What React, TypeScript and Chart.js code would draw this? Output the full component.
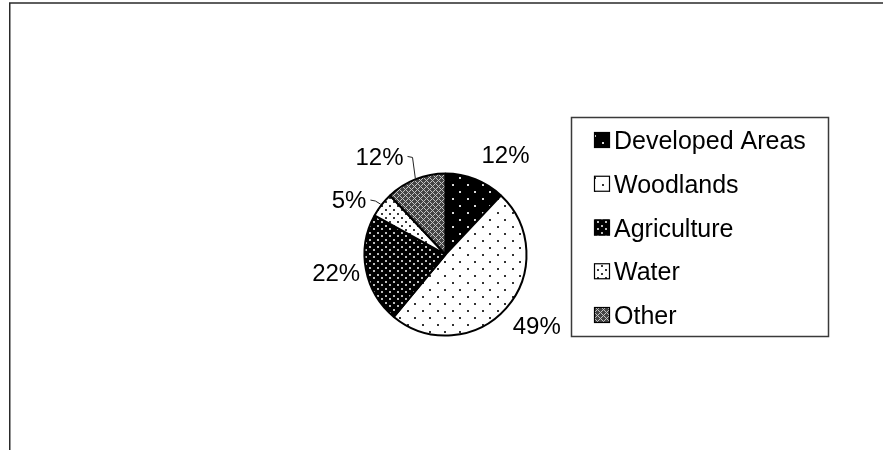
import React, { useEffect, useRef } from 'react';
import { Chart, registerables } from 'chart.js';

Chart.register(...registerables);

// ---- data ----
const categories = ['Developed Areas', 'Woodlands', 'Agriculture', 'Water', 'Other'];
const shares = [12, 49, 22, 5, 12];

// ---- style / layout constants (not data) ----
const LABEL_FONT = '24px "Liberation Sans", Arial, sans-serif';
const LEGEND_FONT = '25px "Liberation Sans", Arial, sans-serif';
const LABEL_GAP = 14;
const LABEL_NUDGE: [number, number][] = [[1, 0], [-4, 3], [8, 0], [-4, 12], [-7, 2]];
const LEADER_FOR = ['Water', 'Other'];
const LEGEND_BOX = { left: 571.5, top: 117.5, right: 828.5, bottom: 336.5 };
const LEGEND_ROW0 = 140;
const LEGEND_ROW_STEP = 43.75;

type Dot = [number, number];

function dotPattern(w: number, h: number, bg: string, fg: string, dots: Dot[], size: number) {
  const c = document.createElement('canvas');
  c.width = w;
  c.height = h;
  const g = c.getContext('2d')!;
  g.fillStyle = bg;
  g.fillRect(0, 0, w, h);
  g.fillStyle = fg;
  dots.forEach(([x, y]) => g.fillRect(x, y, size, size));
  return g.createPattern(c, 'repeat')!;
}

function crossPattern() {
  const n = 6;
  const c = document.createElement('canvas');
  c.width = n;
  c.height = n;
  const g = c.getContext('2d')!;
  g.fillStyle = '#444444';
  g.fillRect(0, 0, n, n);
  g.fillStyle = '#c4c4c4';
  for (let x = 0; x < n; x++) {
    for (let y = 0; y < n; y++) {
      if ((x + y) % n === 0 || (x - y + n) % n === 0) g.fillRect(x, y, 1, 1);
    }
  }
  return g.createPattern(c, 'repeat')!;
}

function makeFills() {
  return [
    dotPattern(15, 14, '#000000', '#d8d8d8', [[2, 2], [9, 9]], 2),
    dotPattern(15, 14, '#ffffff', '#333333', [[2, 2], [9, 9]], 2),
    dotPattern(8, 7, '#000000', '#bdbdbd', [[1, 1], [5, 4]], 2),
    dotPattern(8, 8, '#ffffff', '#3a3a3a', [[1, 1], [5, 5]], 2),
    crossPattern(),
  ];
}

const framePlugin = {
  id: 'frame',
  beforeDraw(chart: any) {
    const ctx = chart.ctx as CanvasRenderingContext2D;
    ctx.save();
    ctx.fillStyle = '#ffffff';
    ctx.fillRect(0, 0, chart.width, chart.height);
    ctx.strokeStyle = '#2a2a2a';
    ctx.lineWidth = 1.5;
    ctx.beginPath();
    ctx.moveTo(9.75, chart.height);
    ctx.lineTo(9.75, 3);
    ctx.lineTo(chart.width, 3);
    ctx.stroke();
    ctx.restore();
  },
};

const labelPlugin = {
  id: 'pctLabels',
  afterDatasetsDraw(chart: any) {
    const ctx = chart.ctx as CanvasRenderingContext2D;
    const meta = chart.getDatasetMeta(0);
    const values = chart.data.datasets[0].data as number[];
    const total = values.reduce((a, b) => a + b, 0);
    ctx.save();
    ctx.font = LABEL_FONT;
    ctx.fillStyle = '#000';
    ctx.textAlign = 'center';
    ctx.textBaseline = 'middle';
    meta.data.forEach((arc: any, i: number) => {
      const p = arc.getProps(['x', 'y', 'startAngle', 'endAngle', 'outerRadius'], true);
      const mid = (p.startAngle + p.endAngle) / 2;
      const dx = Math.cos(mid);
      const dy = Math.sin(mid);
      const text = Math.round((values[i] / total) * 100) + '%';
      const w = ctx.measureText(text).width;
      const h = 22;
      const ax = p.x + (p.outerRadius + LABEL_GAP) * dx;
      const ay = p.y + (p.outerRadius + LABEL_GAP) * dy;
      const cx = ax + Math.sign(dx) * (w / 2) + LABEL_NUDGE[i][0];
      const cy = ay + (h / 2) * dy + LABEL_NUDGE[i][1];
      ctx.fillText(text, cx, cy);
      if (LEADER_FOR.includes(chart.data.labels[i])) {
        const right = cx + w / 2;
        const ex = p.x + (p.outerRadius + 1) * dx;
        const ey = p.y + (p.outerRadius + 1) * dy;
        ctx.save();
        ctx.strokeStyle = '#222';
        ctx.lineWidth = 1;
        ctx.beginPath();
        ctx.moveTo(right + 4, cy - 1.5);
        ctx.lineTo(right + 9, cy - 0.5);
        ctx.lineTo(ex, ey);
        ctx.stroke();
        ctx.restore();
      }
    });
    ctx.restore();
  },
};

const boxLegendPlugin = {
  id: 'boxLegend',
  afterDraw(chart: any) {
    const ctx = chart.ctx as CanvasRenderingContext2D;
    const labels = chart.data.labels as string[];
    const fills = chart.data.datasets[0].backgroundColor as CanvasPattern[];
    const b = LEGEND_BOX;
    ctx.save();
    ctx.strokeStyle = '#3a3a3a';
    ctx.lineWidth = 1.5;
    ctx.strokeRect(b.left, b.top, b.right - b.left, b.bottom - b.top);
    ctx.font = LEGEND_FONT;
    ctx.textAlign = 'left';
    ctx.textBaseline = 'alphabetic';
    labels.forEach((lab, i) => {
      const cy = LEGEND_ROW0 + i * LEGEND_ROW_STEP;
      const sx = 594;
      const sz = 16;
      ctx.fillStyle = fills[i];
      ctx.fillRect(sx, cy - sz / 2, sz, sz);
      ctx.strokeStyle = '#000';
      ctx.lineWidth = 1.2;
      ctx.strokeRect(sx + 0.5, cy - sz / 2 + 0.5, sz - 1, sz - 1);
      ctx.fillStyle = '#000';
      ctx.fillText(lab, 614, cy + 9);
    });
    ctx.restore();
  },
};

export default function App() {
  const ref = useRef<HTMLCanvasElement | null>(null);

  useEffect(() => {
    const canvas = ref.current!;
    const fills = makeFills();
    const chart = new Chart(canvas, {
      type: 'pie',
      data: {
        labels: categories,
        datasets: [
          {
            data: shares,
            backgroundColor: fills as any,
            borderColor: '#000000',
            borderWidth: 2,
            hoverOffset: 0,
          },
        ],
      },
      options: {
        responsive: false,
        animation: false,
        events: [],
        radius: 81,
        layout: { padding: { left: 300, right: 292, top: 171.5, bottom: 112.5 } },
        plugins: {
          legend: { display: false },
          tooltip: { enabled: false },
          title: { display: false },
        },
      } as any,
      plugins: [framePlugin, labelPlugin, boxLegendPlugin],
    });
    return () => chart.destroy();
  }, []);

  return (
    <div style={{ position: 'fixed', left: 0, top: 0, width: 883, height: 450, background: '#fff' }}>
      <canvas ref={ref} width={883} height={450} style={{ width: 883, height: 450, display: 'block' }} />
    </div>
  );
}
